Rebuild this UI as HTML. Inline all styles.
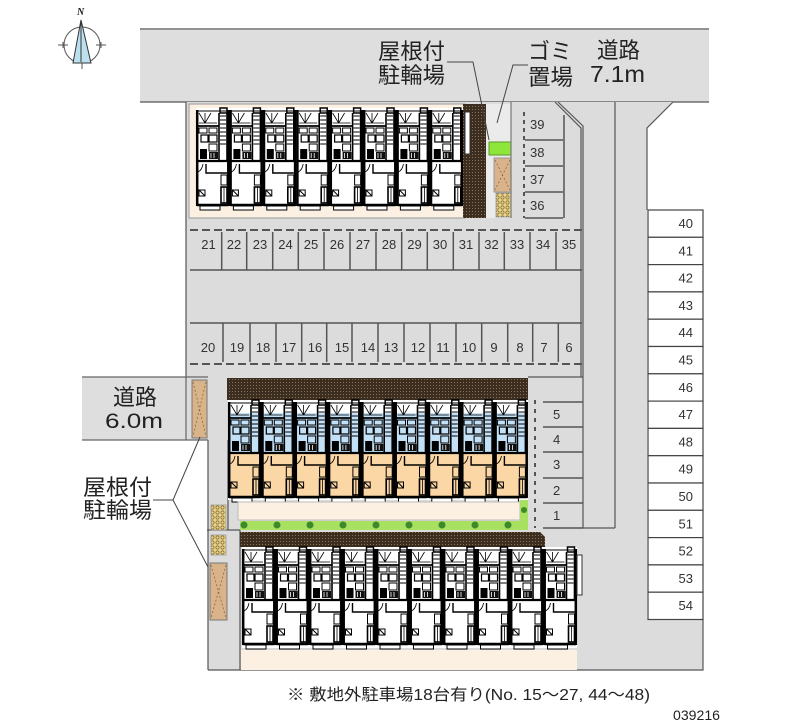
<!DOCTYPE html>
<html><head><meta charset="utf-8"><style>
html,body{margin:0;padding:0;background:#fff;}
svg{display:block}
text{font-family:"Liberation Sans","Noto Sans CJK JP",sans-serif;}
.j{fill:#222;font-size:22px}
.n{fill:#333;font-size:13px}
</style></head><body>
<svg width="800" height="727" viewBox="0 0 800 727" xmlns="http://www.w3.org/2000/svg">
<defs>
 <pattern id="dk" width="3" height="3" patternUnits="userSpaceOnUse"><rect width="3" height="3" fill="#3b2e20"/><rect x="1" y="1" width="1" height="1" fill="#8c7252"/></pattern>
 <pattern id="yl" width="5" height="5" patternUnits="userSpaceOnUse"><rect width="5" height="5" fill="#e9d58a"/><circle cx="2.5" cy="2.5" r="1.6" fill="none" stroke="#7a6030" stroke-width="0.7"/></pattern>
 <g id="u" fill="none" stroke="#000">
  <path d="M1.2 2 V98 M32.3 2 V98" stroke-width="2.5"/>
  <path d="M1 3 H32" stroke-width="1"/>
  <path d="M3 5 L9 15 M15 5 L9 15 M9 5 V15 M3 15 H21" stroke-width="0.8"/>
  <rect x="24" y="0" width="7" height="5" stroke-width="1.5"/>
  <path d="M24 8 h6 M24 12 h6 M24 16 h6 M24 20 h6 M24 24 h6 M24 28 h6 M24 32 h6 M24 36 h6" stroke-width="1"/>
  <path d="M23 5 V52 M31 5 V52" stroke-width="1.6"/>
  <path d="M1 18 H23" stroke-width="1.8"/>
  <rect x="3" y="20" width="8" height="5" stroke-width="1"/>
  <rect x="13" y="20" width="8" height="5" stroke-width="1"/>
  <rect x="5" y="27" width="7" height="7" stroke-width="1.2"/>
  <rect x="13" y="27" width="8" height="7" stroke-width="1.2"/>
  <rect x="13" y="36" width="8" height="7" stroke-width="1"/>
  <rect x="4" y="41" width="7" height="10" fill="#000" stroke="none"/>
  <rect x="13" y="44" width="9" height="7" fill="#111" stroke="none"/>
  <path d="M15 45 v5 M18 45 v5" stroke="#fff" stroke-width="0.8"/>
  <path d="M1 53 H32.5" stroke-width="2.2"/>
  <path d="M10 56 V65 H31" stroke-width="1.4"/>
  <path d="M2 64 Q6 62 7 56" stroke-width="0.8"/>
  <rect x="25" y="67" width="6" height="10" stroke-width="1"/>
  <rect x="25" y="79" width="6" height="16" stroke-width="1.6"/>
  <path d="M28 79 V95" stroke-width="0.8"/>
  <path d="M3 82 h6 v6 h-6 z M3 82 l6 6" stroke-width="1"/>
  <path d="M1 97 H32.5" stroke-width="2.4"/>
  <rect x="4" y="98" width="20" height="4" fill="#fff" stroke-width="1"/>
 </g>
</defs>

<!-- compass -->
<circle cx="82" cy="45" r="18" fill="none" stroke="#555" stroke-width="1"/>
<path d="M58 45 H68 M96 45 H106 M82 62 V69 M63 42 V48 M101 42 V48" stroke="#555" stroke-width="1"/>
<polygon points="81,20 73,63 91,63" fill="#bde0f0" stroke="#333" stroke-width="1"/>
<path d="M81 20 V62" stroke="#333" stroke-width="1"/>
<text x="77" y="15" style="font-family:'Liberation Serif',serif;font-style:italic;font-size:10px;font-weight:bold" fill="#222">N</text>

<!-- top road -->
<rect x="140" y="28" width="569" height="74" fill="#dedede"/>
<path d="M140 29 H709" stroke="#666" stroke-width="1.2"/>
<path d="M140 102 H709" stroke="#555" stroke-width="1.2"/>

<!-- site gray -->
<rect x="186" y="102" width="461" height="568" fill="#dcdcdc"/>
<rect x="186" y="440" width="22" height="231" fill="#fff"/>
<polygon points="647,102 673,102 647,128" fill="#dcdcdc"/>
<rect x="647" y="619" width="56" height="51" fill="#dcdcdc"/>

<!-- lines -->
<g stroke="#555" stroke-width="1.2" fill="none">
 <path d="M186 102 V377"/>
 <path d="M555 102 L581 128 V377 M558 102 L583 126 V377"/>
 <path d="M673 102 L647 128 V210"/>
 <path d="M615 102 V528"/>
 <path d="M528 377 H583 M583 377 V528 H615"/>
 <path d="M208 670 H703 V619"/>
 <path d="M208 440 V670"/>
 <path d="M240 530 V670"/>
 <path d="M207 530 H240"/>
 <path d="M228 440 V530"/>
</g>

<!-- left road -->
<rect x="82" y="377" width="104" height="63" fill="#dedede"/>
<path d="M82 377 H208 M82 440 H208 M186 377 V440" stroke="#666" stroke-width="1.2" fill="none"/>

<!-- top building -->
<rect x="189" y="104" width="276" height="114" fill="#fbf0e2" stroke="#999" stroke-width="1"/>
<rect x="196" y="108" width="267" height="98" fill="#fff"/>
<use href="#u" x="196" y="108"/>
<use href="#u" x="229.4" y="108"/>
<use href="#u" x="262.8" y="108"/>
<use href="#u" x="296.2" y="108"/>
<use href="#u" x="329.6" y="108"/>
<use href="#u" x="363" y="108"/>
<use href="#u" x="396.4" y="108"/>
<use href="#u" x="429.8" y="108"/>
<rect x="463" y="104" width="23" height="114" fill="url(#dk)"/>
<rect x="465" y="112" width="5" height="42" fill="#fff" stroke="#333" stroke-width="1"/>
<rect x="486" y="104" width="25" height="114" fill="#ebebeb"/>
<rect x="489" y="142" width="22" height="13" fill="#8ee63a" stroke="#5a9a2a" stroke-width="1"/>
<rect x="494" y="158" width="17" height="34" fill="#d9b38a" stroke="#999" stroke-width="1"/>
<path d="M495 160 L510 190 M510 160 L495 190" stroke="#8a6a45" stroke-width="0.8" stroke-dasharray="2,2"/>
<rect x="496" y="193" width="15" height="24" fill="url(#yl)" stroke="#999" stroke-width="0.8"/>
<path d="M511 102 V218" stroke="#777" stroke-width="1.2"/>

<!-- slots 36-39 -->
<path d="M524 112 V218" stroke="#555" stroke-width="2" stroke-dasharray="4,4"/>
<path d="M525 140 H563 M525 166 H563 M525 192 H563 M525 218 H563 M564 115 V218" stroke="#555" stroke-width="1.5" fill="none"/>
<text class="n" x="530" y="129">39</text>
<text class="n" x="530" y="157">38</text>
<text class="n" x="530" y="184">37</text>
<text class="n" x="530" y="210">36</text>

<!-- row 21-35 -->
<path d="M190 230 H582" stroke="#555" stroke-width="2" stroke-dasharray="8,4"/>
<path d="M190 270 H582" stroke="#555" stroke-width="1.5"/>
<g stroke="#555" stroke-width="1.5">
<path d="M221.7 232 V270 M246.7 232 V270 M272.7 232 V270 M298.3 232 V270 M324 232 V270 M350 232 V270 M376 232 V270 M401.7 232 V270 M427.3 232 V270 M453.3 232 V270 M479 232 V270 M504.3 232 V270 M530 232 V270 M556 232 V270"/>
</g>
<g class="n" text-anchor="middle">
<text x="208.5" y="249">21</text><text x="234" y="249">22</text><text x="260" y="249">23</text><text x="285.5" y="249">24</text><text x="311" y="249">25</text><text x="337" y="249">26</text><text x="363" y="249">27</text><text x="389" y="249">28</text><text x="414.5" y="249">29</text><text x="440" y="249">30</text><text x="466" y="249">31</text><text x="491.5" y="249">32</text><text x="517" y="249">33</text><text x="543" y="249">34</text><text x="569" y="249">35</text>
</g>

<!-- row 6-20 -->
<path d="M190 323 H582" stroke="#555" stroke-width="1.5"/>
<path d="M190 364 H582" stroke="#555" stroke-width="2" stroke-dasharray="8,4"/>
<g stroke="#555" stroke-width="1.5">
<path d="M223 323 V362 M250 323 V362 M276 323 V362 M301.7 323 V362 M326.7 323 V362 M352 323 V362 M378 323 V362 M404 323 V362 M430 323 V362 M456 323 V362 M481.7 323 V362 M507.7 323 V362 M532.7 323 V362 M558.3 323 V362"/>
</g>
<g class="n" text-anchor="middle">
<text x="208" y="352">20</text><text x="237" y="352">19</text><text x="263" y="352">18</text><text x="289" y="352">17</text><text x="315" y="352">16</text><text x="342" y="352">15</text><text x="368" y="352">14</text><text x="391" y="352">13</text><text x="418" y="352">12</text><text x="443" y="352">11</text><text x="469" y="352">10</text><text x="494" y="352">9</text><text x="520" y="352">8</text><text x="544" y="352">7</text><text x="569" y="352">6</text>
</g>

<!-- middle building -->
<rect x="227" y="378" width="301" height="22" fill="url(#dk)"/>
<rect x="228" y="400" width="300" height="100" fill="#fff"/>
<rect x="228" y="413" width="300" height="41" fill="#c2e1f7"/>
<rect x="228" y="454" width="300" height="43" fill="#fcd7a6"/>
<use href="#u" x="228" y="400"/>
<use href="#u" x="261.3" y="400"/>
<use href="#u" x="294.6" y="400"/>
<use href="#u" x="327.9" y="400"/>
<use href="#u" x="361.2" y="400"/>
<use href="#u" x="394.5" y="400"/>
<use href="#u" x="427.8" y="400"/>
<use href="#u" x="461.1" y="400"/>
<use href="#u" x="494.4" y="400"/>
<rect x="238" y="502" width="282" height="18" fill="#fcf0e2" stroke="#bbb" stroke-width="1"/>
<rect x="240" y="521" width="288" height="9" fill="#a8e060"/>
<rect x="520" y="500" width="8" height="30" fill="#a8e060"/>
<g fill="#3e8a2a">
<circle cx="244" cy="525" r="3.5"/><circle cx="277" cy="525" r="3.5"/><circle cx="310" cy="525" r="3.5"/><circle cx="343" cy="525" r="3.5"/><circle cx="376" cy="525" r="3.5"/><circle cx="409" cy="525" r="3.5"/><circle cx="442" cy="525" r="3.5"/><circle cx="475" cy="525" r="3.5"/><circle cx="508" cy="525" r="3.5"/><circle cx="524" cy="510" r="3"/>
</g>

<!-- slots 1-5 -->
<path d="M535 400 V528" stroke="#555" stroke-width="2" stroke-dasharray="4,5"/>
<path d="M543 402 H583 M543 427 H583 M543 452 H583 M543 478 H583 M543 503 H583 M543 528 H583" stroke="#555" stroke-width="1.5" fill="none"/>
<g class="n">
<text x="553" y="419">5</text><text x="553" y="444">4</text><text x="553" y="469">3</text><text x="553" y="495">2</text><text x="553" y="520">1</text>
</g>

<!-- bottom building -->
<path d="M240 532 H540 L545 537 V547 H240 Z" fill="url(#dk)"/>
<rect x="242" y="547" width="335" height="101" fill="#fff"/>
<use href="#u" x="242" y="547"/>
<use href="#u" x="275.5" y="547"/>
<use href="#u" x="309" y="547"/>
<use href="#u" x="342.5" y="547"/>
<use href="#u" x="376" y="547"/>
<use href="#u" x="409.5" y="547"/>
<use href="#u" x="443" y="547"/>
<use href="#u" x="476.5" y="547"/>
<use href="#u" x="510" y="547"/>
<use href="#u" x="543.5" y="547"/>
<rect x="241" y="650" width="336" height="20" fill="#fcf0e2"/>
<rect x="577" y="555" width="5" height="40" fill="#fff" stroke="#333" stroke-width="1"/>

<!-- left bike parking -->
<rect x="192" y="380" width="15" height="58" fill="#d9b38a" stroke="#777" stroke-width="1"/>
<path d="M193 382 L206 436 M206 382 L193 436" stroke="#8a6a45" stroke-width="0.8" stroke-dasharray="2,2"/>
<rect x="211" y="505" width="15" height="25" fill="url(#yl)" stroke="#999" stroke-width="0.8"/>
<rect x="211" y="535" width="15" height="20" fill="url(#yl)" stroke="#999" stroke-width="0.8"/>
<rect x="210" y="563" width="17" height="57" fill="#d9b38a" stroke="#777" stroke-width="1"/>
<path d="M211 565 L226 618 M226 565 L211 618" stroke="#8a6a45" stroke-width="0.8" stroke-dasharray="2,2"/>

<!-- slots 40-54 -->
<g fill="#fff" stroke="#444" stroke-width="1.2">
<rect x="648" y="210" width="55" height="27.3"/><rect x="648" y="237.3" width="55" height="27.3"/><rect x="648" y="264.6" width="55" height="27.3"/><rect x="648" y="291.9" width="55" height="27.3"/><rect x="648" y="319.2" width="55" height="27.3"/><rect x="648" y="346.5" width="55" height="27.3"/><rect x="648" y="373.8" width="55" height="27.3"/><rect x="648" y="401.1" width="55" height="27.3"/><rect x="648" y="428.4" width="55" height="27.3"/><rect x="648" y="455.7" width="55" height="27.3"/><rect x="648" y="483" width="55" height="27.3"/><rect x="648" y="510.3" width="55" height="27.3"/><rect x="648" y="537.6" width="55" height="27.3"/><rect x="648" y="564.9" width="55" height="27.3"/><rect x="648" y="592.2" width="55" height="27.3"/>
</g>
<g class="n" text-anchor="end">
<text x="693" y="228">40</text><text x="693" y="255.3">41</text><text x="693" y="282.6">42</text><text x="693" y="309.9">43</text><text x="693" y="337.2">44</text><text x="693" y="364.5">45</text><text x="693" y="391.8">46</text><text x="693" y="419.1">47</text><text x="693" y="446.4">48</text><text x="693" y="473.7">49</text><text x="693" y="501">50</text><text x="693" y="528.3">51</text><text x="693" y="555.6">52</text><text x="693" y="582.9">53</text><text x="693" y="610.2">54</text>
</g>

<!-- leaders -->
<g stroke="#444" stroke-width="1" fill="none">
<path d="M447 62 H473 L489 140"/>
<path d="M528 65 H513 L497 123"/>
<path d="M153 500 H173 L200 437 M173 500 L208 567"/>
</g>

<!-- labels -->
<text class="j" x="378" y="59" textLength="67" lengthAdjust="spacingAndGlyphs">屋根付</text>
<text class="j" x="378" y="83" textLength="67" lengthAdjust="spacingAndGlyphs">駐輪場</text>
<text class="j" x="528" y="59" textLength="44" lengthAdjust="spacingAndGlyphs">ゴミ</text>
<text class="j" x="528" y="85" textLength="45" lengthAdjust="spacingAndGlyphs">置場</text>
<text class="j" x="597" y="58" textLength="43" lengthAdjust="spacingAndGlyphs">道路</text>
<text class="j" x="590" y="82" textLength="55" lengthAdjust="spacingAndGlyphs" style="font-size:23px">7.1m</text>
<text class="j" x="113" y="405" textLength="44" lengthAdjust="spacingAndGlyphs">道路</text>
<text class="j" x="105" y="428" textLength="58" lengthAdjust="spacingAndGlyphs" style="font-size:21px">6.0m</text>
<text class="j" x="83" y="495" textLength="69" lengthAdjust="spacingAndGlyphs">屋根付</text>
<text class="j" x="83" y="518" textLength="69" lengthAdjust="spacingAndGlyphs">駐輪場</text>

<text x="287" y="700" textLength="363" lengthAdjust="spacingAndGlyphs" style="font-size:16px;fill:#222">※ 敷地外駐車場18台有り(No. 15～27, 44～48)</text>
<text x="673" y="720" textLength="47" lengthAdjust="spacingAndGlyphs" style="font-size:14px;fill:#222">039216</text>
</svg>
</body></html>
